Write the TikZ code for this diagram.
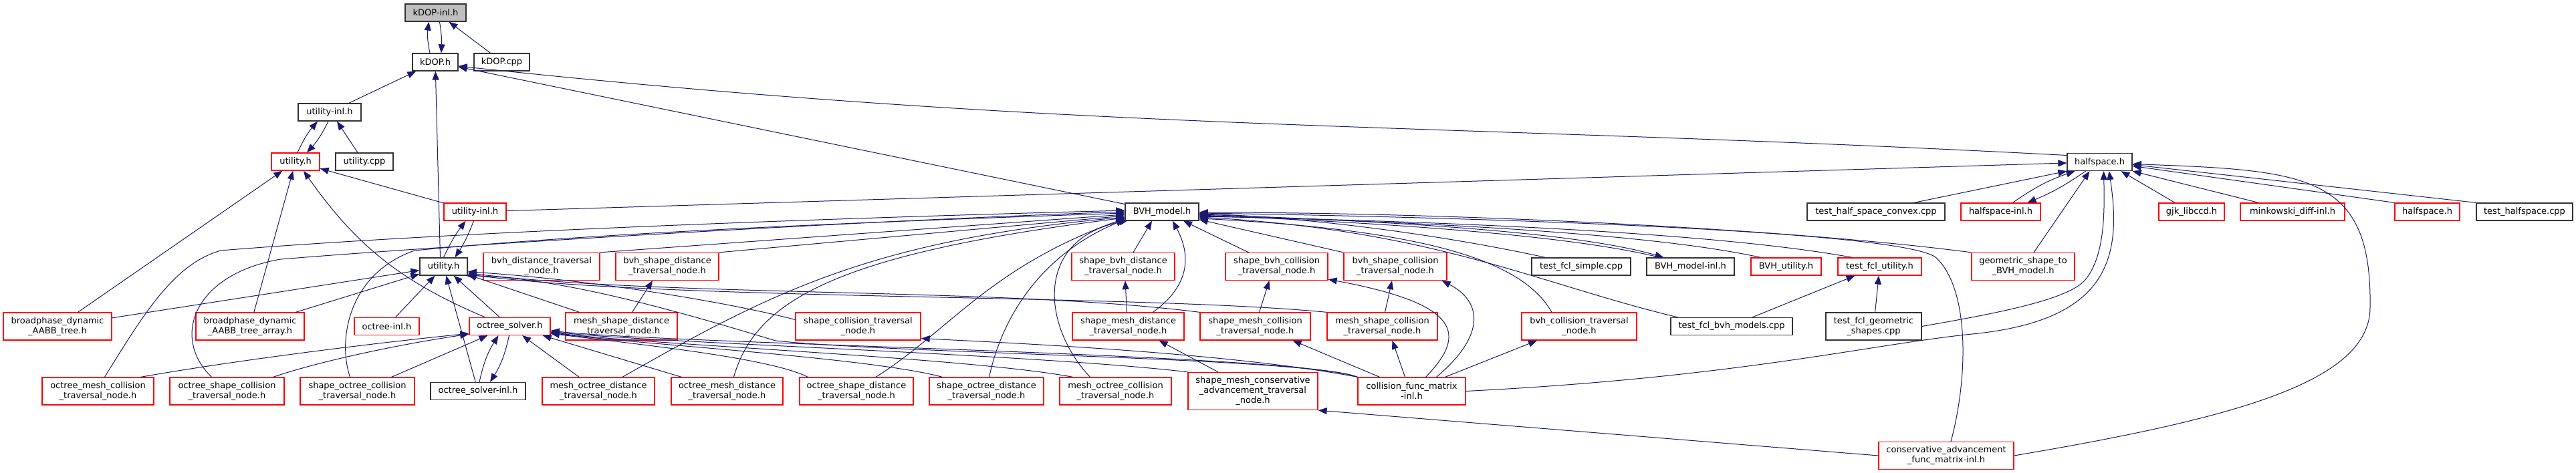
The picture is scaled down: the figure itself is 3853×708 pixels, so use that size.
\documentclass[tikz,border=0pt]{standalone}
\usepackage{fontspec}
\setmainfont{DejaVu Sans}
\usetikzlibrary{arrows.meta, positioning}
\definecolor{edgeblue}{HTML}{191970}

\begin{document}
\begin{tikzpicture}[->, >={Triangle[length=13pt,width=10pt]}, x=1pt, y=1pt, line width=1pt,
    every edge/.append style={edgeblue},
    file/.style={rectangle, draw=black!80, fill=white, line width=1.3pt, inner sep=0pt, minimum height=26pt, align=center, font=\fontsize{13}{15}\selectfont},
    trunc/.style={file, draw=red},
    root/.style={file, fill=black!25},
    two/.style={minimum height=41pt},
    three/.style={minimum height=56pt}]
      \useasboundingbox (0,0) rectangle (3853,-708);

      % Row 0 (the file itself)
      \node[root, minimum width=91pt] (kdopinl) at (651.5,-19) {kDOP-inl.h};

      % Row 1
      \node[file, minimum width=68pt] (kdop) at (651,-93) {kDOP.h};
      \node[file, minimum width=83pt] (kdopcpp) at (750.5,-93) {kDOP.cpp};

      % Row 2
      \node[file, minimum width=94pt] (utilinlA) at (493,-168) {utility-inl.h};

      % Row 3
      \node[trunc, minimum width=72pt] (utilA) at (442,-242) {utility.h};
      \node[file, minimum width=86pt] (utilcpp) at (545,-242) {utility.cpp};
      \node[file, minimum width=97pt] (half) at (3140.5,-242.5) {halfspace.h};

      % Row 4
      \node[trunc, minimum width=93pt] (utilinlB) at (710.5,-317) {utility-inl.h};
      \node[file, minimum width=110pt] (bvh) at (1738,-317) {BVH\_model.h};
      \node[file, minimum width=206pt] (thsc) at (2806,-317) {test\_half\_space\_convex.cpp};
      \node[trunc, minimum width=119pt] (halfinl) at (2992.5,-317) {halfspace-inl.h};
      \node[trunc, minimum width=98pt] (gjk) at (3278,-317) {gjk\_libccd.h};
      \node[trunc, minimum width=156pt] (mink) at (3429,-317) {minkowski\_diff-inl.h};
      \node[trunc, minimum width=97pt] (halfB) at (3630.5,-317) {halfspace.h};
      \node[file, minimum width=144pt] (thalf) at (3776,-317) {test\_halfspace.cpp};

      % Row 5
      \node[file, minimum width=71pt] (utilB) at (663.5,-399) {utility.h};
      \node[trunc, two, minimum width=174pt] (bvhdist) at (810,-399) {bvh\_distance\_traversal\\\_node.h};
      \node[trunc, two, minimum width=154pt] (bvhsdist) at (998,-399) {bvh\_shape\_distance\\\_traversal\_node.h};
      \node[trunc, two, minimum width=154pt] (sbvhdist) at (1680,-399) {shape\_bvh\_distance\\\_traversal\_node.h};
      \node[trunc, two, minimum width=153pt] (sbvhcol) at (1909.5,-399) {shape\_bvh\_collision\\\_traversal\_node.h};
      \node[trunc, two, minimum width=154pt] (bvhscol) at (2087,-399) {bvh\_shape\_collision\\\_traversal\_node.h};
      \node[file, minimum width=148pt] (tfsimple) at (2365,-399) {test\_fcl\_simple.cpp};
      \node[file, minimum width=131pt] (bvhinl) at (2528.5,-399) {BVH\_model-inl.h};
      \node[trunc, minimum width=105pt] (bvhutil) at (2671.5,-399) {BVH\_utility.h};
      \node[trunc, minimum width=125pt] (tfutil) at (2811.5,-399) {test\_fcl\_utility.h};
      \node[trunc, two, minimum width=154pt] (geo) at (3026,-399) {geometric\_shape\_to\\\_BVH\_model.h};

      % Row 6
      \node[trunc, two, minimum width=162pt] (bpt) at (86,-488.5) {broadphase\_dynamic\\\_AABB\_tree.h};
      \node[trunc, two, minimum width=162pt] (bpa) at (374,-488.5) {broadphase\_dynamic\\\_AABB\_tree\_array.h};
      \node[trunc, minimum width=97pt] (octinl) at (578.5,-488.5) {octree-inl.h};
      \node[trunc, minimum width=121pt] (octsolv) at (762.5,-488.5) {octree\_solver.h};
      \node[trunc, two, minimum width=167pt] (msdist) at (929.5,-488.5) {mesh\_shape\_distance\\\_traversal\_node.h};
      \node[trunc, two, minimum width=187pt] (scol) at (1283.5,-488.5) {shape\_collision\_traversal\\\_node.h};
      \node[trunc, two, minimum width=167pt] (smdist) at (1687.5,-488.5) {shape\_mesh\_distance\\\_traversal\_node.h};
      \node[trunc, two, minimum width=165pt] (smcol) at (1877.5,-488.5) {shape\_mesh\_collision\\\_traversal\_node.h};
      \node[trunc, two, minimum width=165pt] (mscol) at (2067.5,-488.5) {mesh\_shape\_collision\\\_traversal\_node.h};
      \node[trunc, two, minimum width=172pt] (bvhcol) at (2362,-488.5) {bvh\_collision\_traversal\\\_node.h};
      \node[file, minimum width=182pt] (tfbvh) at (2590,-488.5) {test\_fcl\_bvh\_models.cpp};
      \node[file, two, minimum width=143pt] (tfgeo) at (2802.5,-488.5) {test\_fcl\_geometric\\\_shapes.cpp};

      % Row 7
      \node[trunc, two, minimum width=167pt] (omcol) at (146.5,-585.5) {octree\_mesh\_collision\\\_traversal\_node.h};
      \node[trunc, two, minimum width=171pt] (oscol) at (339.5,-585.5) {octree\_shape\_collision\\\_traversal\_node.h};
      \node[trunc, two, minimum width=171pt] (socol) at (534.5,-585.5) {shape\_octree\_collision\\\_traversal\_node.h};
      \node[file, minimum width=142pt] (octsinl) at (715,-585.5) {octree\_solver-inl.h};
      \node[trunc, two, minimum width=168pt] (modist) at (895,-585.5) {mesh\_octree\_distance\\\_traversal\_node.h};
      \node[trunc, two, minimum width=167pt] (omdist) at (1087.5,-585.5) {octree\_mesh\_distance\\\_traversal\_node.h};
      \node[trunc, two, minimum width=170pt] (osdist) at (1281,-585.5) {octree\_shape\_distance\\\_traversal\_node.h};
      \node[trunc, two, minimum width=171pt] (sodist) at (1475.5,-585.5) {shape\_octree\_distance\\\_traversal\_node.h};
      \node[trunc, two, minimum width=167pt] (mocol) at (1668.5,-585.5) {mesh\_octree\_collision\\\_traversal\_node.h};
      \node[trunc, three, minimum width=194pt] (smca) at (1874,-585.5) {shape\_mesh\_conservative\\\_advancement\_traversal\\\_node.h};
      \node[trunc, two, minimum width=161pt] (cfm) at (2111.5,-585.5) {collision\_func\_matrix\\-inl.h};

      % Row 8
      \node[trunc, two, minimum width=202pt] (cafm) at (2911,-682) {conservative\_advancement\\\_func\_matrix-inl.h};

      % Includes of kDOP-inl.h and kDOP.h
      \path ([xshift=-8pt]kdop.north) edge [bend left=10] ([xshift=-10pt]kdopinl.south)
            ([xshift=6pt]kdopinl.south) edge [bend left=6] ([xshift=9pt]kdop.north)
            ([xshift=-17pt]kdopcpp.north) edge ([xshift=20pt]kdopinl.south)
            (utilinlA) edge (kdop)
            ([xshift=-5pt]utilB.north) edge (kdop)
            (bvh) edge (kdop)
            ;
      \draw[edgeblue] ([yshift=10pt]half.west) .. controls (2154,-183) and (1620,-199) .. ([yshift=-6pt]kdop.east);

      % Includes of the bv utility files
      \path ([xshift=3pt]utilA.north) edge [bend left=8] ([xshift=-18pt]utilinlA.south)
            ([xshift=-2pt]utilinlA.south) edge [bend left=8] ([xshift=17pt]utilA.north)
            ([xshift=-10pt]utilcpp.north) edge ([xshift=11pt]utilinlA.south)
            (utilinlB) edge (utilA)
            (bpt) edge (utilA)
            (bpa) edge (utilA)
            ([xshift=-37pt]octsolv.north) edge [bend left=16] ([xshift=12pt]utilA.south)
            ;

      % Includes of the shape utility files
      \path (utilB.north) edge [bend left=6] ([xshift=-14pt]utilinlB.south)
            ([xshift=-2pt]utilinlB.south) edge [bend left=6] ([xshift=17pt]utilB.north)
            (utilinlB) edge (half)
            (bpt) edge (utilB)
            (bpa) edge (utilB)
            (octinl) edge (utilB)
            (octsolv) edge (utilB)
            (octsinl) edge (utilB)
            (msdist) edge (utilB)
            ;
      \draw[edgeblue] ([yshift=10pt]scol.west) .. controls (1100,-455) and (900,-420) .. (utilB.-12);
      \draw[edgeblue] (smcol.north west) .. controls (1500,-430) and (1000,-445) .. (utilB.-15);
      \draw[edgeblue] (mscol.north west) .. controls (1700,-440) and (1000,-450) .. (utilB.-18);
      \draw[edgeblue] (cfm.north west) .. controls (1950,-535) and (1350,-530) .. (1160,-510)
                      .. controls (1060,-480) and (850,-415) .. (utilB.-22);

      % Includes of octree_solver.h
      \path ([xshift=2pt]octsinl.north) edge [bend left=10] ([xshift=-17pt]octsolv.south)
            ([xshift=-1pt]octsolv.south) edge [bend left=10] ([xshift=18pt]octsinl.north)
            ([xshift=-35pt]socol.north east) edge ([xshift=28pt]octsolv.south west)
            (modist) edge (octsolv)
            ([xshift=16pt]omdist.north west) edge ([xshift=-12pt]octsolv.south east)
            ;
      \draw[edgeblue] ([xshift=-20pt]omcol.north east) .. controls (320,-545) and (500,-520) .. ([yshift=3pt]octsolv.south west);
      \draw[edgeblue] ([xshift=-17pt]oscol.north east) .. controls (480,-540) and (600,-515) .. ([yshift=2pt]octsolv.south west);
      \draw[edgeblue] ([xshift=13pt]osdist.north west) .. controls (1150,-535) and (950,-515) .. (octsolv.-10);
      \draw[edgeblue] ([xshift=20pt]sodist.north west) .. controls (1300,-535) and (950,-515) .. (octsolv.-9);
      \draw[edgeblue] ([xshift=20pt]mocol.north west) .. controls (1450,-535) and (950,-515) .. (octsolv.-8);
      \draw[edgeblue] (smca.north west) .. controls (1550,-530) and (950,-512) .. (octsolv.-7);
      \draw[edgeblue] (cfm.north west) .. controls (1950,-530) and (1000,-515) .. (octsolv.-6);

      % Includes of BVH_model.h from the left
      \draw[edgeblue] ([xshift=10pt]omcol.north) .. controls (215,-470) and (260,-395) .. (330,-375)
                      .. controls (700,-345) and (1300,-325) .. ([yshift=2pt]bvh.west);
      \draw[edgeblue] ([xshift=-23pt]oscol.north) .. controls (255,-505) and (290,-410) .. (420,-388)
                      .. controls (700,-365) and (1300,-330) .. (bvh.west);
      \draw[edgeblue] ([xshift=-11pt]socol.north) .. controls (505,-510) and (520,-410) .. (620,-375)
                      .. controls (900,-348) and (1300,-332) .. ([yshift=-2pt]bvh.west);
      \path (bvhdist.north east) edge ([yshift=-4pt]bvh.west)
            (bvhsdist.north east) edge ([yshift=-6pt]bvh.west)
            ;
      \draw[edgeblue] ([xshift=36pt]modist.north) .. controls (1150,-440) and (1300,-360) .. ([yshift=-8pt]bvh.west);
      \draw[edgeblue] ([xshift=10pt]omdist.north) .. controls (1130,-450) and (1250,-380) .. ([yshift=-9pt]bvh.west);
      \draw[edgeblue] ([xshift=29pt]osdist.north) .. controls (1420,-495) and (1480,-400) .. ([yshift=-10pt]bvh.west);
      \draw[edgeblue] ([xshift=4pt]sodist.north) .. controls (1500,-470) and (1560,-380) .. ([yshift=2pt]bvh.south west);
      \draw[edgeblue] ([xshift=-38pt]mocol.north) .. controls (1560,-490) and (1545,-360) .. ([xshift=5pt,yshift=1pt]bvh.south west);

      % Includes of BVH_model.h from below
      \path ([xshift=15pt]sbvhdist.north) edge ([xshift=-15pt]bvh.south)
            ([xshift=-42pt]sbvhcol.north) edge ([xshift=32pt]bvh.south)
            (bvhscol.north west) edge ([yshift=2pt]bvh.south east)
            ;
      \draw[edgeblue] ([xshift=37pt]smdist.north) .. controls (1790,-420) and (1775,-370) .. ([xshift=16pt]bvh.south);

      % Includes of BVH_model.h from the right
      \draw[edgeblue] ([xshift=21pt]tfsimple.north west) .. controls (2150,-350) and (1950,-325) .. ([yshift=-3pt]bvh.east);
      \draw[edgeblue] ([yshift=-4pt]bvh.east) .. controls (2050,-330) and (2350,-345) .. ([xshift=-40pt]bvhinl.north);
      \draw[edgeblue] ([xshift=-46pt]bvhinl.north) .. controls (2340,-350) and (2050,-333) .. ([yshift=-5pt]bvh.east);
      \draw[edgeblue] ([xshift=15pt]bvhutil.north west) .. controls (2450,-345) and (2050,-330) .. ([yshift=-6pt]bvh.east);
      \draw[edgeblue] ([xshift=22pt]tfutil.north west) .. controls (2550,-345) and (2100,-330) .. ([yshift=-7pt]bvh.east);
      \draw[edgeblue] (geo.north west) .. controls (2700,-345) and (2200,-318) .. ([yshift=-1pt]bvh.east);
      \draw[edgeblue] ([xshift=7pt]cafm.north) .. controls (2945,-560) and (2945,-430) .. (2895,-385)
                      .. controls (2840,-345) and (2200,-325) .. ([yshift=-2pt]bvh.east);
      \draw[edgeblue] ([xshift=11pt]tfbvh.north west) .. controls (2300,-425) and (2150,-345) .. ([yshift=-8pt]bvh.east);
      \draw[edgeblue] ([xshift=-41pt]bvhcol.north) .. controls (2280,-395) and (2150,-345) .. ([yshift=-10pt]bvh.east);

      % Traversal nodes including traversal nodes
      \path ([xshift=16pt]msdist.north) edge ([xshift=-22pt]bvhsdist.south)
            ([xshift=-2pt]smdist.north) edge ([xshift=3pt]sbvhdist.south)
            ([xshift=6pt]smcol.north) edge ([xshift=-11pt]sbvhcol.south)
            ([xshift=4pt]mscol.north) edge ([xshift=-5pt]bvhscol.south)
            ([xshift=-52pt]smca.north) edge ([xshift=46pt]smdist.south)
            (cafm.west) edge (smca.south east)
            ;

      % Includes of collision_func_matrix-inl.h
      \path ([xshift=-48pt]cfm.north) edge ([xshift=56pt]smcol.south)
            ([xshift=-10pt]cfm.north) edge ([xshift=15pt]mscol.south)
            ([xshift=50pt]cfm.north) edge ([xshift=-63pt]bvhcol.south)
            ;
      \draw[edgeblue] (cfm.north west) .. controls (1850,-530) and (1550,-515) .. ([yshift=3pt]scol.south east);
      \draw[edgeblue] ([xshift=21pt]cfm.north) .. controls (2195,-500) and (2185,-455) .. ([yshift=2pt]sbvhcol.south east);
      \draw[edgeblue] ([xshift=37pt]cfm.north) .. controls (2225,-500) and (2215,-450) .. ([xshift=-8pt]bvhscol.south east);

      % Includes of halfspace.h
      \path ([xshift=57pt]thsc.north) edge (half.south west)
            ([xshift=18pt]halfinl.north) edge [bend left=8] ([xshift=-37pt]half.south)
            ([xshift=-21pt]half.south) edge [bend left=6] ([xshift=40pt]halfinl.north)
            ([xshift=16pt]geo.north) edge ([xshift=-15pt]half.south)
            ([xshift=-25pt]gjk.north) edge ([xshift=32pt]half.south)
            ([xshift=-51pt]mink.north) edge (half.south east)
            (halfB.north west) edge ([yshift=-6pt]half.east)
            (thalf.north west) edge ([yshift=-4pt]half.east)
            ;
      \draw[edgeblue] (cfm.east) .. controls (2600,-565) and (2800,-515) .. (2950,-500)
                      .. controls (3150,-480) and (3175,-390) .. ([xshift=14pt]half.south);
      \draw[edgeblue] (tfgeo.east) .. controls (2980,-470) and (3090,-450) .. (3118,-420)
                      .. controls (3148,-385) and (3148,-320) .. ([xshift=6pt]half.south);
      \draw[edgeblue] (cafm.east) .. controls (3350,-625) and (3545,-570) .. (3545,-460)
                      .. controls (3548,-260) and (3450,-255) .. ([yshift=-3pt]half.east);

      % Includes of test_fcl_utility.h
      \path ([xshift=31pt]tfbvh.north) edge ([xshift=-37pt]tfutil.south)
            (tfgeo) edge (tfutil)
            ;
    \end{tikzpicture}
\end{document}
